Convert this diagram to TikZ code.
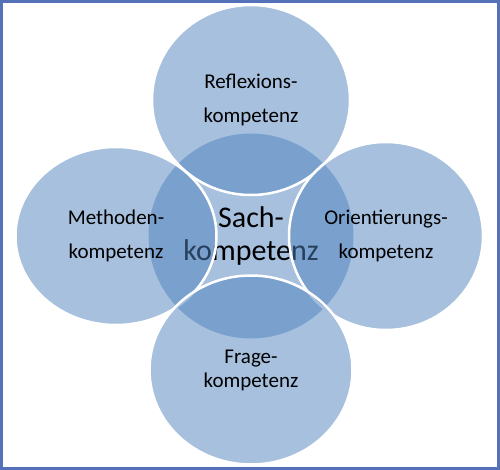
\documentclass[tikz,border=0pt]{standalone}
\usepackage{fontspec}
\setmainfont{Carlito}
\usetikzlibrary{shapes.geometric}
\definecolor{kblue}{RGB}{79,129,189}
\definecolor{kframe}{RGB}{85,114,185}

\begin{document}
\begin{tikzpicture}[x=1pt, y=-1pt,
    bubble/.style={ellipse, fill=kblue, fill opacity=0.5, text opacity=1, draw=white, line width=2.5pt, inner sep=0pt, align=center, font=\fontsize{21}{34}\selectfont}]
    \useasboundingbox (0,0) rectangle (500,470);
    \node[ellipse, fill=kblue, fill opacity=0.5, text opacity=1, inner sep=0pt, minimum size=205pt, align=center, font=\fontsize{30}{33}\selectfont] (sach) at (251,236) {Sach-\\kompetenz};
    \node[bubble, minimum width=198pt, minimum height=190pt] (reflexion) at (251,100) {Reflexions-\\kompetenz};
    \node[bubble, minimum width=201pt, minimum height=178pt] (methode) at (116,236) {Methoden-\\kompetenz};
    \node[bubble, minimum width=194pt, minimum height=188pt] (orient) at (386,236) {Orientierungs-\\kompetenz};
    \node[bubble, minimum width=203pt, minimum height=189pt, font=\fontsize{21}{24}\selectfont] (frage) at (251,370) {Frage-\\kompetenz};
    \draw[kframe, line width=3pt] (1.5,1.5) rectangle (498.5,468.5);
\end{tikzpicture}
\end{document}
